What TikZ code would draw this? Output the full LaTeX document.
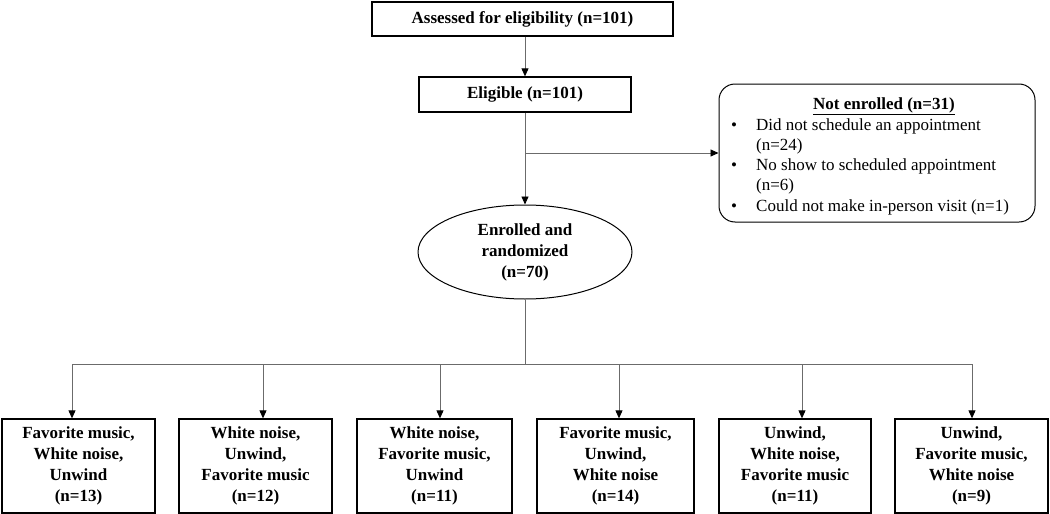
\documentclass[tikz,border=0pt]{standalone}
\usepackage{fontspec}
\setmainfont{Liberation Serif}
\usetikzlibrary{arrows.meta,shapes.geometric}
\definecolor{conn}{rgb}{0.42,0.42,0.42}
\begin{document}
\begin{tikzpicture}[x=1pt,y=-1pt,
  every node/.style={font=\fontsize{17}{21}\selectfont},
  boxnode/.style={draw=black,line width=1.3pt,inner sep=0pt,align=center,font=\fontsize{17}{21}\selectfont\bfseries},
  armbox/.style={boxnode,minimum width=153pt,minimum height=94pt},
  conline/.style={draw=conn,line width=0.9pt},
  arr/.style={conline,-{Triangle[length=8pt,width=7pt,color=black]}},
  itemtext/.style={anchor=base west,inner sep=0pt}
]
\useasboundingbox (0,0) rectangle (1050,514);

\node[boxnode,minimum width=301pt,minimum height=34pt] (top) at (522.5,19) {Assessed for eligibility (n=101)};
\node[boxnode,minimum width=212pt,minimum height=35pt] (elig) at (525,94.5) {Eligible (n=101)};
\node[boxnode,ellipse,line width=1pt,minimum width=214pt,minimum height=94pt] (enr) at (525,252) {Enrolled and\\randomized\\(n=70)};

\node[draw=black,line width=1pt,rounded corners=16pt,minimum width=316pt,minimum height=138pt,inner sep=0pt] (ne) at (877,153) {};
\node[anchor=base,inner sep=0pt,font=\fontsize{17}{21}\selectfont\bfseries] (neh) at (884,109) {\underline{Not enrolled (n=31)}};
\node[itemtext] (b1) at (731,130) {\textbullet};
\node[itemtext] (t1) at (756,130) {Did not schedule an appointment};
\node[itemtext] (t1b) at (756,150) {(n=24)};
\node[itemtext] (b2) at (731,170) {\textbullet};
\node[itemtext] (t2) at (756,170) {No show to scheduled appointment};
\node[itemtext] (t2b) at (756,190) {(n=6)};
\node[itemtext] (b3) at (731,211) {\textbullet};
\node[itemtext] (t3) at (756,211) {Could not make in-person visit (n=1)};

\node[armbox] (g1) at (78.5,466) {Favorite music,\\White noise,\\Unwind\\(n=13)};
\node[armbox] (g2) at (255.5,466) {White noise,\\Unwind,\\Favorite music\\(n=12)};
\node[armbox,minimum width=155pt] (g3) at (434.5,466) {White noise,\\Favorite music,\\Unwind\\(n=11)};
\node[armbox,minimum width=157pt] (g4) at (615.5,466) {Favorite music,\\Unwind,\\White noise\\(n=14)};
\node[armbox,minimum width=152pt] (g5) at (795,466) {Unwind,\\White noise,\\Favorite music\\(n=11)};
\node[armbox] (g6) at (971.5,466) {Unwind,\\Favorite music,\\White noise\\(n=9)};

\draw[arr] (elig.north |- top.south) -- (elig.north);
\coordinate (br) at (525,153);
\draw[arr] (elig.south) -- (enr.north);
\draw[arr] (br) -- (ne.west);

\coordinate (hub) at (525,364);
\coordinate (h1) at (72,364);
\coordinate (h2) at (263,364);
\coordinate (h3) at (440,364);
\coordinate (h4) at (619,364);
\coordinate (h5) at (802,364);
\coordinate (h6) at (972,364);
\draw[conline] (enr.south) -- (hub);
\draw[conline] (h1) -- (h6);
\foreach \i in {1,...,6} {
  \draw[arr] (h\i) -- (h\i |- g\i.north);
}
\end{tikzpicture}
\end{document}
